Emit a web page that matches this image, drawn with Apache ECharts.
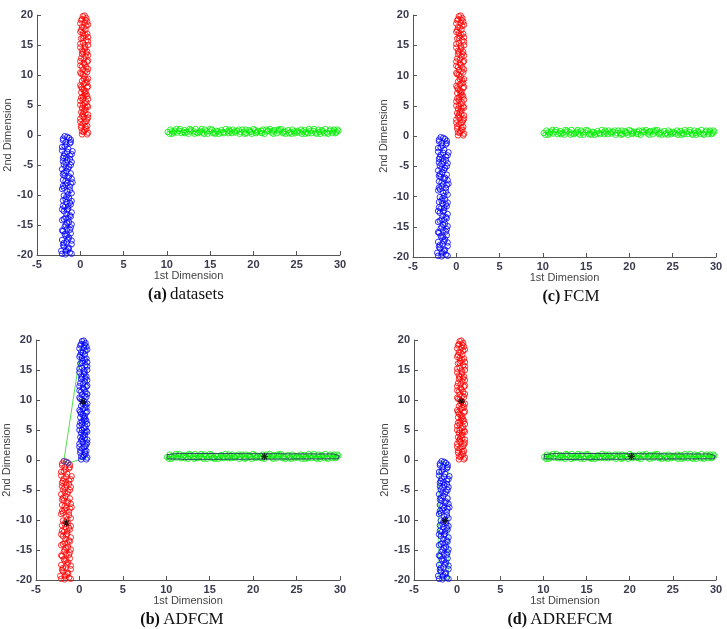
<!DOCTYPE html>
<html><head><meta charset="utf-8">
<script src="https://cdn.jsdelivr.net/npm/echarts@6/dist/echarts.min.js"></script>
<style>html,body{margin:0;padding:0;background:#fff}#c{width:727px;height:629px}</style>
</head><body><div id="c"></div>
<script>
// ---- data ----
var xTicks = [-5, 0, 5, 10, 15, 20, 25, 30];
var yTicks = [-20, -15, -10, -5, 0, 5, 10, 15, 20];
var captions = [['(a)', 'datasets'], ['(c)', 'FCM'], ['(b)', 'ADFCM'], ['(d)', 'ADREFCM']];

var upperCluster = [[0.3,19.8],[0.7,19.5],[0.1,19.1],[0.5,18.7],[0.9,18.4],[0.2,18.0],[0.6,17.6],[0.0,17.2],[0.8,16.9],[0.4,16.5],[0.1,16.1],[0.7,15.8],[0.3,15.4],[0.9,15.0],[0.0,14.6],[0.5,14.3],[0.8,13.9],[0.2,13.5],[0.6,13.1],[0.1,12.8],[0.9,12.4],[0.4,12.0],[0.0,11.6],[0.7,11.3],[0.3,10.9],[0.8,10.5],[0.1,10.2],[0.5,9.8],[0.9,9.4],[0.2,9.0],[0.6,8.7],[0.0,8.3],[0.8,7.9],[0.4,7.5],[0.1,7.1],[0.7,6.8],[0.3,6.4],[0.9,6.0],[0.0,5.7],[0.5,5.3],[0.8,4.9],[0.2,4.5],[0.6,4.2],[0.1,3.8],[0.9,3.4],[0.4,3.0],[0.0,2.7],[0.7,2.3],[0.3,1.9],[0.8,1.5],[0.1,1.2],[0.5,0.8],[0.9,0.4],[0.2,0.1],
  [0.5,19.9],[0.2,19.3],[0.8,18.9],[0.4,17.9],[0.1,17.5],[0.6,16.7],[0.3,16.2],[0.9,15.6],[0.5,14.9],[0.2,14.1],[0.7,13.6],[0.4,12.6],[0.8,12.2],[0.2,11.4],[0.6,10.7],[0.3,10.1],[0.7,9.2],[0.4,8.5],[0.9,8.1],[0.2,7.7],[0.6,7.3],[0.5,6.6],[0.1,6.2],[0.7,5.5],[0.3,5.0],[0.9,4.7],[0.4,4.0],[0.6,3.6],[0.2,3.2],[0.8,2.6],[0.5,2.1],[0.1,1.6],[0.7,1.0],[0.4,0.5],[0.8,0.1],
  [0.6,19.2],[0.0,18.6],[0.7,18.2],[0.3,17.0],[0.9,16.3],[0.0,15.2],[0.6,14.6],[0.3,13.8],[0.9,13.3],[0.0,12.3],[0.5,11.8],[0.9,11.0],[0.0,10.4],[0.4,9.4],[0.8,8.8],[0.1,8.0],[0.5,7.0],[0.8,6.5],[0.3,5.9],[0.0,5.0],[0.6,4.6],[0.3,3.5],[0.9,2.9],[0.0,2.2],[0.6,1.4],[0.2,0.6]];

var lowerCluster = [[-1.8,-0.2],[-1.3,-0.5],[-2.0,-0.9],[-1.1,-1.2],[-1.6,-1.6],[-2.1,-2.0],[-1.4,-2.3],[-0.9,-2.7],[-1.8,-3.1],[-1.2,-3.4],[-2.0,-3.8],[-1.5,-4.2],[-1.0,-4.5],[-1.9,-4.9],[-1.3,-5.3],[-2.1,-5.7],[-1.6,-6.0],[-1.1,-6.4],[-1.8,-6.8],[-1.4,-7.1],[-2.0,-7.5],[-0.9,-7.9],[-1.7,-8.3],[-1.2,-8.6],[-2.1,-9.0],[-1.5,-9.4],[-1.0,-9.7],[-1.9,-10.1],[-1.3,-10.5],[-2.0,-10.9],[-1.6,-11.2],[-1.1,-11.6],[-1.8,-12.0],[-1.4,-12.3],[-1.9,-12.7],[-1.2,-13.4],[-1.7,-13.8],[-2.1,-14.2],[-1.3,-14.5],[-1.0,-14.9],[-1.8,-15.3],[-1.5,-15.6],[-2.0,-16.0],[-1.1,-16.4],[-1.7,-16.8],[-1.3,-17.1],[-2.1,-17.5],[-1.6,-17.9],[-1.0,-18.2],[-1.9,-18.6],[-1.4,-19.0],[-2.2,-19.3],[-1.2,-19.6],[-1.7,-19.9],
  [-1.5,-0.3],[-2.0,-0.6],[-1.2,-1.4],[-1.8,-1.9],[-1.5,-2.8],[-1.9,-3.5],[-1.2,-4.0],[-1.7,-4.6],[-1.4,-5.6],[-1.9,-6.3],[-1.3,-6.9],[-1.7,-7.7],[-1.1,-8.1],[-1.9,-8.8],[-1.4,-9.9],[-1.7,-10.7],[-1.2,-11.3],[-2.0,-11.8],[-1.5,-12.5],[-1.6,-13.2],[-1.1,-13.6],[-1.9,-14.0],[-1.5,-14.7],[-1.2,-15.8],[-1.8,-16.5],[-1.4,-17.4],[-1.9,-18.0],[-1.3,-18.8],[-1.7,-19.4],[-1.0,-19.8],
  [-1.1,-0.8],[-1.7,-1.2],[-2.1,-2.6],[-1.0,-3.2],[-1.6,-3.7],[-2.0,-4.4],[-1.1,-5.0],[-1.7,-5.4],[-2.0,-6.6],[-1.0,-7.3],[-1.5,-8.0],[-2.0,-8.5],[-1.2,-9.2],[-1.6,-10.3],[-1.0,-11.0],[-1.4,-11.9],[-2.1,-12.4],[-1.0,-12.9],[-1.4,-13.9],[-1.7,-15.0],[-1.1,-15.4],[-2.1,-15.9],[-1.5,-16.7],[-1.0,-17.6],[-2.0,-18.3],[-1.6,-19.2],[-2.1,-19.8]];

var horizontalCluster = [[10.1,0.5],[10.4,0.9],[10.6,0.2],[10.9,0.7],[11.2,0.4],[11.5,1.0],[11.7,0.3],[12.0,0.8],[12.3,0.5],[12.5,0.2],[12.8,0.9],[13.1,0.6],[13.3,1.0],[13.6,0.3],[13.9,0.7],[14.1,0.4],[14.4,0.9],[14.7,0.2],[14.9,0.6],[15.2,0.9],[15.5,0.4],[15.7,0.7],[16.0,0.2],[16.3,0.8],[16.5,0.5],[16.8,1.0],[17.1,0.3],[17.3,0.6],[17.6,0.9],[17.9,0.4],[18.1,0.7],[18.4,0.2],[18.7,0.9],[18.9,0.5],[19.2,0.3],[19.5,0.8],[19.7,0.5],[20.0,1.0],[20.3,0.3],[20.5,0.7],[20.8,0.4],[21.1,0.9],[21.3,0.2],[21.6,0.6],[21.9,1.0],[22.1,0.4],[22.4,0.8],[22.7,0.3],[22.9,0.6],[23.2,1.0],[23.5,0.5],[23.7,0.2],[24.0,0.8],[24.3,0.5],[24.5,0.9],[24.8,0.3],[25.1,0.7],[25.3,0.4],[25.6,0.2],[25.9,0.8],[26.1,0.5],[26.4,1.0],[26.7,0.3],[26.9,0.7],[27.2,0.4],[27.5,0.9],[27.7,0.2],[28.0,0.6],[28.3,1.0],[28.5,0.4],[28.8,0.7],[29.1,0.3],[29.3,0.9],[29.6,0.5],[29.8,0.7],
  [10.3,0.2],[10.8,0.4],[11.4,0.7],[12.1,0.3],[12.7,0.6],[13.4,0.4],[14.0,1.0],[14.6,0.6],[15.3,0.3],[15.9,0.6],[16.6,0.3],[17.2,0.9],[17.8,0.6],[18.5,0.5],[19.1,0.9],[19.8,0.2],[20.4,0.5],[21.0,0.3],[21.7,0.7],[22.3,0.2],[23.0,0.9],[23.6,0.7],[24.4,0.2],[25.0,0.5],[25.7,0.6],[26.3,0.3],[27.0,1.0],[27.6,0.5],[28.2,0.3],[28.9,0.9],[29.5,0.3],
  [10.6,0.6],[11.1,1.0],[11.9,0.5],[12.6,1.0],[13.2,0.2],[13.8,0.5],[14.3,0.2],[15.0,1.0],[15.6,0.2],[16.2,0.4],[17.0,0.6],[17.5,0.3],[18.3,0.9],[19.0,0.2],[19.6,0.6],[20.2,0.8],[20.9,0.7],[21.5,0.9],[22.2,0.7],[22.8,0.9],[23.4,0.3],[24.1,0.3],[24.7,0.6],[25.5,0.9],[26.0,0.2],[26.6,0.7],[27.3,0.2],[27.9,0.8],[28.6,0.2],[29.2,0.6],[29.7,0.9]];

// ADFCM: points of the lower cluster assigned to the upper cluster
var adfcmReassigned = [[-1.8,-0.2],[-1.5,-0.3],[-1.3,-0.5]];
var adfcmUpperHull = [[-1.8,-0.2],[0.3,19.8],[0.5,19.9],[0.7,19.5],[0.9,18.4],[0.9,0.4],[0.8,0.1],[-1.3,-0.5],[-1.8,-0.2]];
var horizontalHull = [[10.1,0.2],[10.1,0.9],[11.5,1.1],[29.3,1.0],[29.9,0.7],[29.8,0.2],[12.5,0.1],[10.1,0.2]];
var adrefcmLowerHull = [[-1.8,-0.2],[-2.1,-2.0],[-2.2,-19.3],[-1.7,-19.9],[-1.0,-19.8],[-0.9,-7.9],[-0.9,-2.7],[-1.3,-0.5],[-1.8,-0.2]];
var adfcmCentroids = [[0.4,9.7],[-1.5,-10.5],[21.3,0.55]];
var adrefcmCentroids = [[0.5,9.8],[-1.4,-10.1],[20.2,0.6]];

// ---- chart ----
var RED = '#ff0000', BLUE = '#0000ff', GREEN = '#00ee00';
var panels = [
  {left: 37, top: 15, width: 303, height: 240, cap: [186, 295]},
  {left: 413, top: 15, width: 303, height: 242, cap: [571, 297]},
  {left: 36, top: 340, width: 304, height: 240, cap: [182, 620]},
  {left: 414, top: 340, width: 302, height: 240, cap: [560, 620]}
];
var grids = [], xAxes = [], yAxes = [], series = [], graphics = [];
var lbl = {fontFamily: 'Liberation Sans, Arial, sans-serif', fontSize: 11, fontWeight: 'bold', color: '#3a3a4e'};
panels.forEach(function (p, i) {
  grids.push({left: p.left, top: p.top, width: p.width, height: p.height, containLabel: false});
  xAxes.push({type: 'value', gridIndex: i, min: xTicks[0], max: xTicks[xTicks.length - 1], interval: 5,
    splitLine: {show: false}, axisLine: {onZero: false, lineStyle: {color: '#555', width: 1}},
    axisTick: {inside: true, length: 4, lineStyle: {color: '#555'}},
    axisLabel: Object.assign({margin: 4}, lbl),
    name: '1st Dimension', nameLocation: 'middle', nameGap: 15,
    nameTextStyle: {fontFamily: 'Liberation Sans, Arial, sans-serif', fontSize: 11, color: '#444'}});
  yAxes.push({type: 'value', gridIndex: i, min: yTicks[0], max: yTicks[yTicks.length - 1], interval: 5,
    splitLine: {show: false}, axisLine: {onZero: false, lineStyle: {color: '#555', width: 1}},
    axisTick: {inside: true, length: 4, lineStyle: {color: '#555'}},
    axisLabel: Object.assign({margin: 4}, lbl),
    name: '2nd Dimension', nameLocation: 'middle', nameGap: 18, nameRotate: 90,
    nameTextStyle: {fontFamily: 'Liberation Sans, Arial, sans-serif', fontSize: 11, color: '#444'}});
  graphics.push({type: 'text', x: p.cap[0], y: p.cap[1],
    style: {text: '{b|' + captions[i][0] + '} {n|' + captions[i][1] + '}', align: 'center', verticalAlign: 'middle',
      rich: {b: {fontFamily: 'Liberation Serif, DejaVu Serif, serif', fontSize: 16, fontWeight: 'bold', fill: '#111'},
             n: {fontFamily: 'Liberation Serif, DejaVu Serif, serif', fontSize: 17, fill: '#111'}}}});
});
function scat(i, data, color, z) {
  series.push({type: 'scatter', xAxisIndex: i, yAxisIndex: i, data: data, symbol: 'circle', symbolSize: 5.5,
    itemStyle: {color: 'rgba(0,0,0,0)', borderColor: color, borderWidth: 1}, z: z || 2, silent: true, animation: false});
}
function hull(i, data, color, z) {
  series.push({type: 'line', xAxisIndex: i, yAxisIndex: i, data: data, symbol: 'none', smooth: false,
    lineStyle: {color: color, width: 1}, z: z || 1, silent: true, animation: false});
}
function cent(i, data) {
  series.push({type: 'scatter', xAxisIndex: i, yAxisIndex: i, data: data, z: 5, silent: true, animation: false,
    symbol: 'path://M0,-5L0,5M-5,0L5,0M-3.5,-3.5L3.5,3.5M-3.5,3.5L3.5,-3.5', symbolSize: 7,
    itemStyle: {color: 'rgba(0,0,0,0)', borderColor: '#000', borderWidth: 1.2}});
}
// (a) datasets
scat(0, upperCluster, RED); scat(0, lowerCluster, BLUE); scat(0, horizontalCluster, GREEN);
// (c) FCM
scat(1, upperCluster, RED); scat(1, lowerCluster, BLUE); scat(1, horizontalCluster, GREEN);
// (b) ADFCM
hull(2, adfcmUpperHull, '#55dd55', 1);
scat(2, lowerCluster, RED); scat(2, upperCluster, BLUE, 3); scat(2, adfcmReassigned, '#3355cc', 3);
scat(2, horizontalCluster, GREEN); hull(2, horizontalHull, '#2b4a66', 4);
cent(2, adfcmCentroids);
// (d) ADREFCM
hull(3, adrefcmLowerHull, '#77ee77', 1);
scat(3, upperCluster, RED); scat(3, lowerCluster, BLUE);
scat(3, horizontalCluster, GREEN); hull(3, horizontalHull, '#2b4a66', 4);
cent(3, adrefcmCentroids);

var chart = echarts.init(document.getElementById('c'), null, {renderer: 'canvas'});
chart.setOption({animation: false, backgroundColor: '#fff', grid: grids, xAxis: xAxes, yAxis: yAxes, series: series, graphic: graphics});
</script></body></html>
